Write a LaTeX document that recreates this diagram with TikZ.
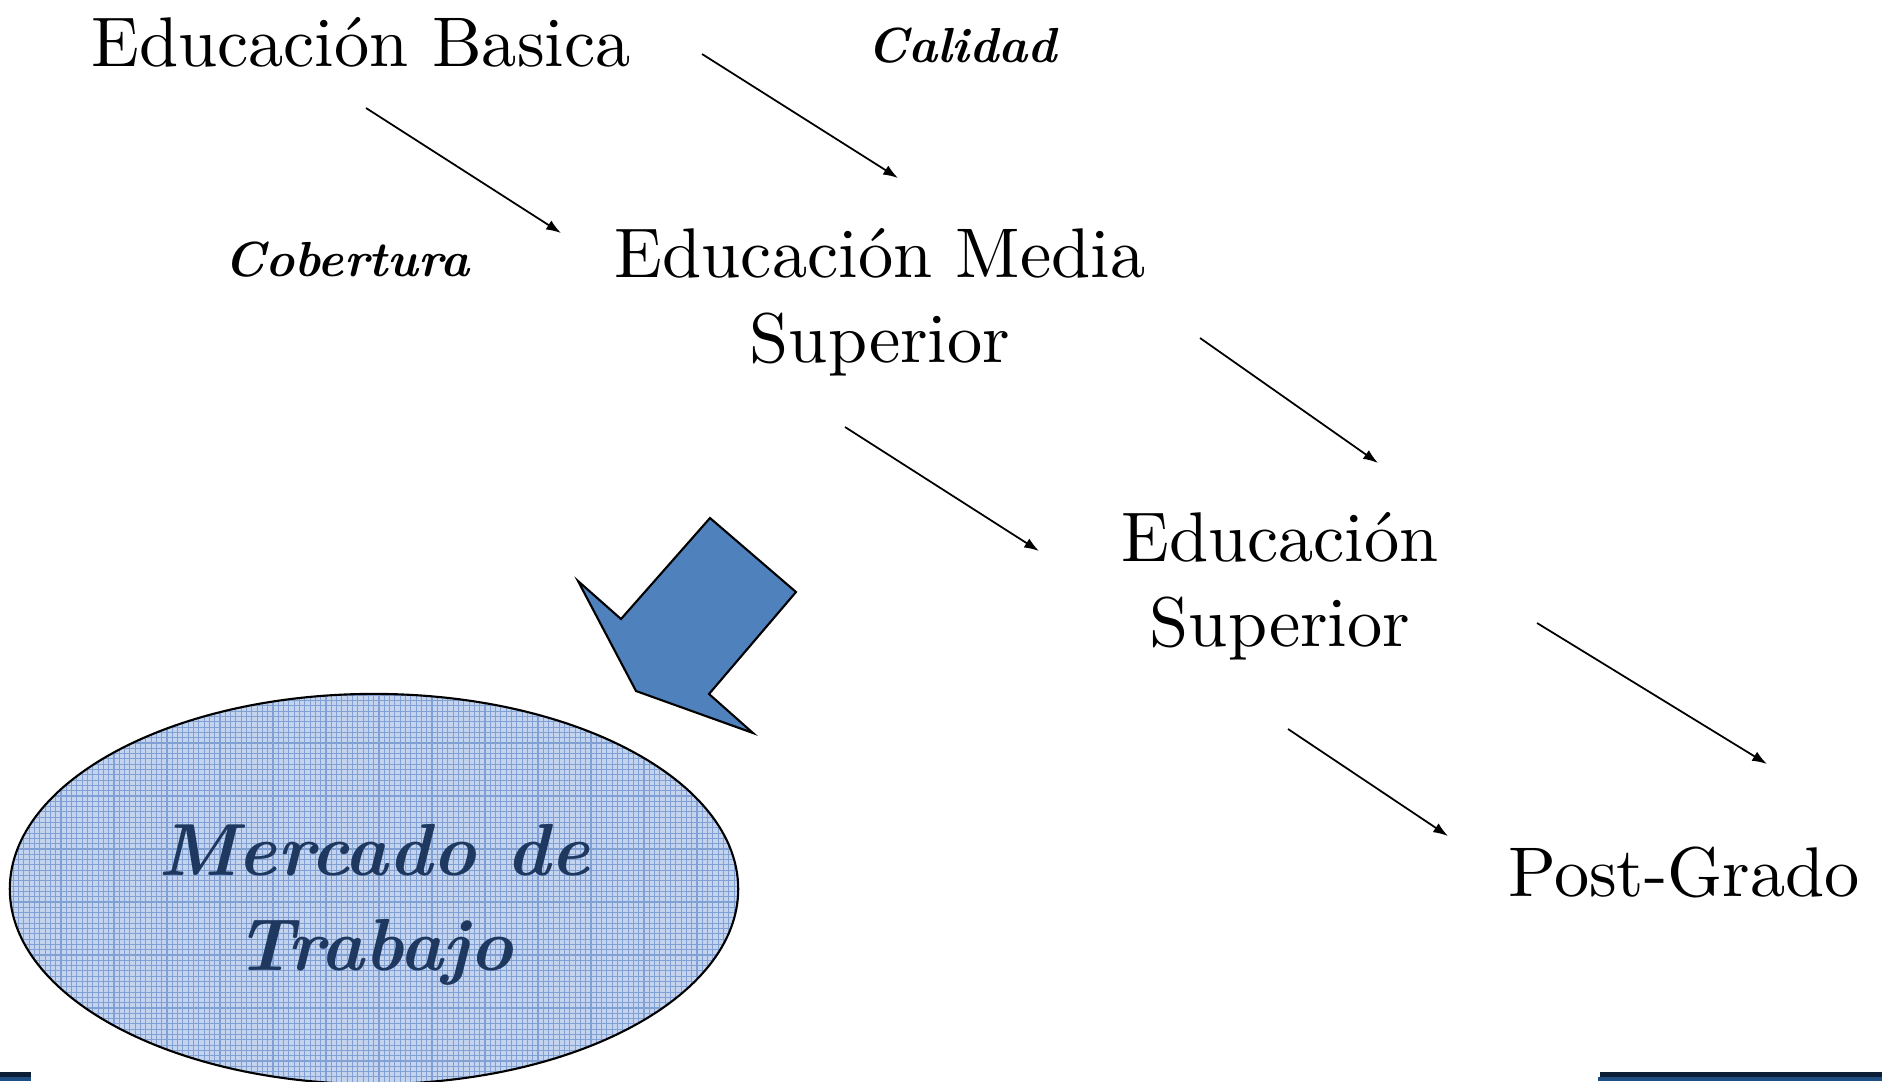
\documentclass[tikz,border=0pt]{standalone}
\usepackage{fontspec}
\setmainfont{lmroman10-regular.otf}[BoldFont=lmroman10-bold.otf, ItalicFont=lmroman10-italic.otf, BoldItalicFont=lmroman10-bolditalic.otf]
\usetikzlibrary{shapes, arrows.meta, positioning, calc, shapes.geometric}
\definecolor{arrowblue}{RGB}{79,129,189}
\definecolor{ovalfill}{RGB}{196,212,238}
\definecolor{ovalgrid}{RGB}{128,160,212}
\definecolor{ovaltext}{RGB}{31,56,96}
\definecolor{bardark}{RGB}{12,30,54}
\definecolor{barblue}{RGB}{31,78,128}

\begin{document}
\begin{tikzpicture}[x=0.01cm, y=-0.01cm,
        nivel/.style={font=\fontsize{20}{24}\selectfont, align=center, inner sep=0pt, anchor=base},
        etiqueta/.style={font=\fontsize{14}{17}\selectfont\bfseries\itshape, inner sep=0pt, anchor=base},
        flecha/.style={-{Latex[length=4.2pt, width=3pt]}, line width=0.5pt}]
        \useasboundingbox (0,0) rectangle (1882,1081);

        % niveles educativos
        \node[nivel] (basica) at (361,66) {Educación Basica};
        \node[nivel] (media) at (880,362) {Educación Media\\Superior};
        \node[nivel] (superior) at (1280,646) {Educación\\Superior};
        \node[nivel] (posgrado) at (1684,896) {Post-Grado};

        \node[etiqueta] (calidad) at (962,62) {Calidad};
        \node[etiqueta] (cobertura) at (347,276) {Cobertura};

        % extremos de las flechas
        \coordinate (cob-ini) at (366,108);
        \coordinate (cob-fin) at (561,233);
        \coordinate (cal-ini) at (702,54);
        \coordinate (cal-fin) at (898,178);
        \coordinate (ms-ini) at (845,427);
        \coordinate (ms-fin) at (1039,551);
        \coordinate (mp-ini) at (1200,338);
        \coordinate (mp-fin) at (1378,463);
        \coordinate (sp-ini) at (1288,729);
        \coordinate (sp-fin) at (1448,836);
        \coordinate (sx-ini) at (1537,623);
        \coordinate (sx-fin) at (1767,764);

        \draw[flecha] (cob-ini) -- (cob-fin);
        \draw[flecha] (cal-ini) -- (cal-fin);
        \draw[flecha] (ms-ini) -- (ms-fin);
        \draw[flecha] (mp-ini) -- (mp-fin);
        \draw[flecha] (sp-ini) -- (sp-fin);
        \draw[flecha] (sx-ini) -- (sx-fin);

        % mercado de trabajo
        \fill[ovalfill] (374,889) ellipse [x radius=3.64cm, y radius=1.95cm];
        \begin{scope}
            \clip (374,889) ellipse [x radius=3.64cm, y radius=1.95cm];
            \foreach \g in {0,...,140}
                \draw[ovalgrid, line width=0.3pt] ({8+5.3*\g},690) -- ++(0,400);
            \foreach \g in {0,...,76}
                \draw[ovalgrid, line width=0.3pt] (8,{690+5.3*\g}) -- ++(740,0);
        \end{scope}
        \node[draw, ellipse, minimum width=7.28cm, minimum height=3.9cm, line width=0.6pt] (mercado) at (374,889) {};
        \node[font=\fontsize{21}{27}\selectfont\bfseries\itshape, text=ovaltext, align=center, inner sep=0pt, anchor=base] (mercadotxt) at (374,970) {Mercado de\\Trabajo};

        % flecha de bloque
        \draw[fill=arrowblue, line width=0.6pt] (710,518) -- (796,592) -- (709,694) -- (753,733) -- (636,691) -- (578,581) -- (621,619) -- cycle;

        % barras inferiores
        \fill[bardark] (0,1072) rectangle (31,1077);
        \fill[barblue] (0,1077) rectangle (31,1081);
        \fill[bardark] (1600,1072) rectangle (1882,1077);
        \fill[barblue] (1598,1077) rectangle (1882,1081);
    \end{tikzpicture}
\end{document}
